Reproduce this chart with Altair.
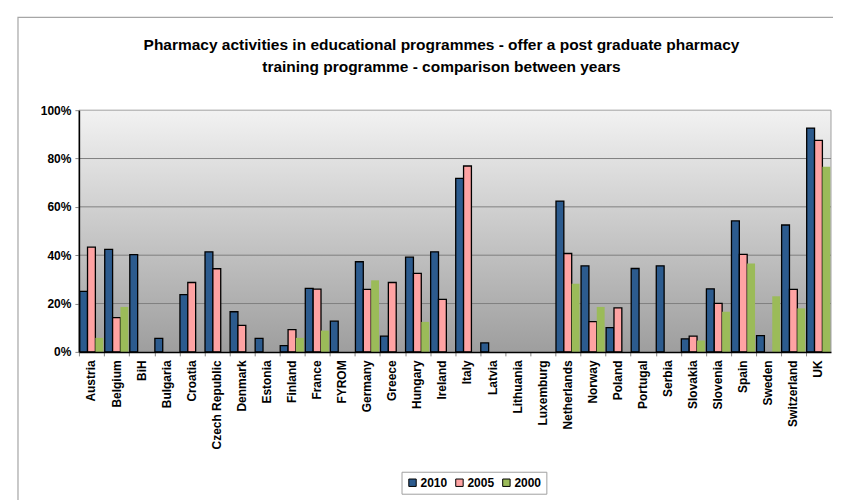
import altair as alt
import pandas as pd

countries = ["Austria", "Belgium", "BiH", "Bulgaria", "Croatia", "Czech Republic", "Denmark",
             "Estonia", "Finland", "France", "FYROM", "Germany", "Greece", "Hungary", "Ireland",
             "Italy", "Latvia", "Lithuania", "Luxemburg", "Netherlands", "Norway", "Poland",
             "Portugal", "Serbia", "Slovakia", "Slovenia", "Spain", "Sweden", "Switzerland", "UK"]

v2010 = [25.0, 42.4, 40.2, 5.6, 23.7, 41.4, 16.6, 5.6, 2.6, 26.3, 12.7, 37.3, 6.5, 39.2, 41.4,
         71.8, 3.7, 0, 0, 62.4, 35.6, 10.0, 34.5, 35.6, 5.4, 26.1, 54.2, 6.7, 52.5, 92.6]
v2005 = [43.3, 14.2, 0, 0, 28.7, 34.4, 11.0, 0, 9.2, 26.0, 0, 25.9, 28.7, 32.5, 21.7,
         76.9, 0, 0, 0, 40.7, 12.5, 18.2, 0, 0, 6.5, 20.1, 40.3, 0, 25.9, 87.5]
v2000 = [5.8, 18.6, 0, 0, 0, 0, 0, 0, 5.8, 8.8, 0, 29.6, 0, 12.4, 0,
         0, 0, 0, 0, 28.2, 18.6, 0, 0, 0, 4.7, 16.6, 36.6, 23.0, 18.0, 76.6]

years = ["2010", "2005", "2000"]
colors = ["#2C5B8E", "#FFA3A3", "#9BBB59"]
grid_values = [0.2, 0.4, 0.6, 0.8]
title_lines = ["Pharmacy activities in educational programmes - offer a post graduate pharmacy",
               "training programme - comparison between years"]

rows = []
for yr, vals in zip(years, [v2010, v2005, v2000]):
    for c, v in zip(countries, vals):
        rows.append({"country": c, "year": yr, "value": v / 100.0})
df = pd.DataFrame(rows)

W, H = 753, 242
FONT = "Liberation Sans"

one = pd.DataFrame({"a": [1]})

frame = alt.Chart(one).mark_rect(
    fill="white", stroke="#a6a6a6", strokeWidth=1.2
).encode(x=alt.value(-61), x2=alt.value(W + 40), y=alt.value(-93), y2=alt.value(H + 200))

title1 = alt.Chart(one).mark_text(
    text=title_lines[0], font=FONT, fontSize=15.5, fontWeight="bold", color="black",
    align="center", baseline="alphabetic"
).encode(x=alt.value(363), y=alt.value(-60))

title2 = alt.Chart(one).mark_text(
    text=title_lines[1], font=FONT, fontSize=15.5, fontWeight="bold", color="black",
    align="center", baseline="alphabetic"
).encode(x=alt.value(363), y=alt.value(-38))

bg = alt.Chart(one).mark_rect(
    color=alt.Gradient(
        gradient="linear",
        stops=[alt.GradientStop(color="#f2f2f2", offset=0),
               alt.GradientStop(color="#9e9e9e", offset=1)],
        x1=0, x2=0, y1=0, y2=1),
    stroke="#a0a0a0", strokeWidth=1
).encode(x=alt.value(0), x2=alt.value(W), y=alt.value(0), y2=alt.value(H))

grid = alt.Chart(pd.DataFrame({"g": grid_values})).mark_rule(
    color="#7f7f7f", strokeWidth=1
).encode(y=alt.Y("g:Q", scale=alt.Scale(domain=[0, 1])))

bars = alt.Chart(df).transform_filter("datum.value > 0").mark_bar(
    stroke="black"
).encode(
    x=alt.X("country:N", sort=countries,
            scale=alt.Scale(domain=countries, paddingInner=0.06, paddingOuter=0.03),
            axis=alt.Axis(title=None, labelAngle=-90, labelFont=FONT, labelFontSize=12,
                          labelFontWeight="bold", labelColor="black", labelPadding=4,
                          bandPosition=0, tickColor="#888888", tickSize=4,
                          domainColor="black", domainWidth=1.5, zindex=1,
                          labelBaseline="middle", labelAlign="right")),
    xOffset=alt.XOffset("year:N", sort=years, scale=alt.Scale(domain=years, paddingInner=0, paddingOuter=0)),
    y=alt.Y("value:Q", scale=alt.Scale(domain=[0, 1]),
            axis=alt.Axis(title=None, values=[0, 0.2, 0.4, 0.6, 0.8, 1.0], format=".0%",
                          grid=False, labelFont=FONT, labelFontSize=12, labelFontWeight="bold",
                          labelColor="black", domainColor="black", domainWidth=1.5,
                          tickColor="#888888", tickSize=4, labelPadding=4, zindex=1)),
    color=alt.Color("year:N", sort=years,
                    scale=alt.Scale(domain=years, range=colors),
                    legend=alt.Legend(title=None, orient="none", direction="horizontal",
                                      legendX=323, legendY=362,
                                      symbolType="square", symbolSize=55,
                                      symbolStrokeColor="black", symbolStrokeWidth=1,
                                      labelFont=FONT, labelFontSize=12, labelFontWeight="bold",
                                      labelColor="black", columnPadding=6,
                                      strokeColor="#a0a0a0", padding=5, labelOffset=2)),
    strokeWidth=alt.condition("datum.year == '2000'", alt.value(0), alt.value(1.3)),
)

chart = alt.layer(frame, title1, title2, bg, grid, bars).properties(
    width=W, height=H,
    autosize=alt.AutoSizeParams(type="none"),
    padding={"left": 71, "top": 102, "right": 2, "bottom": 150},
).configure_view(stroke=None).configure(background="white")

chart.save("out.html", embed_options={"renderer": "svg", "actions": False})
